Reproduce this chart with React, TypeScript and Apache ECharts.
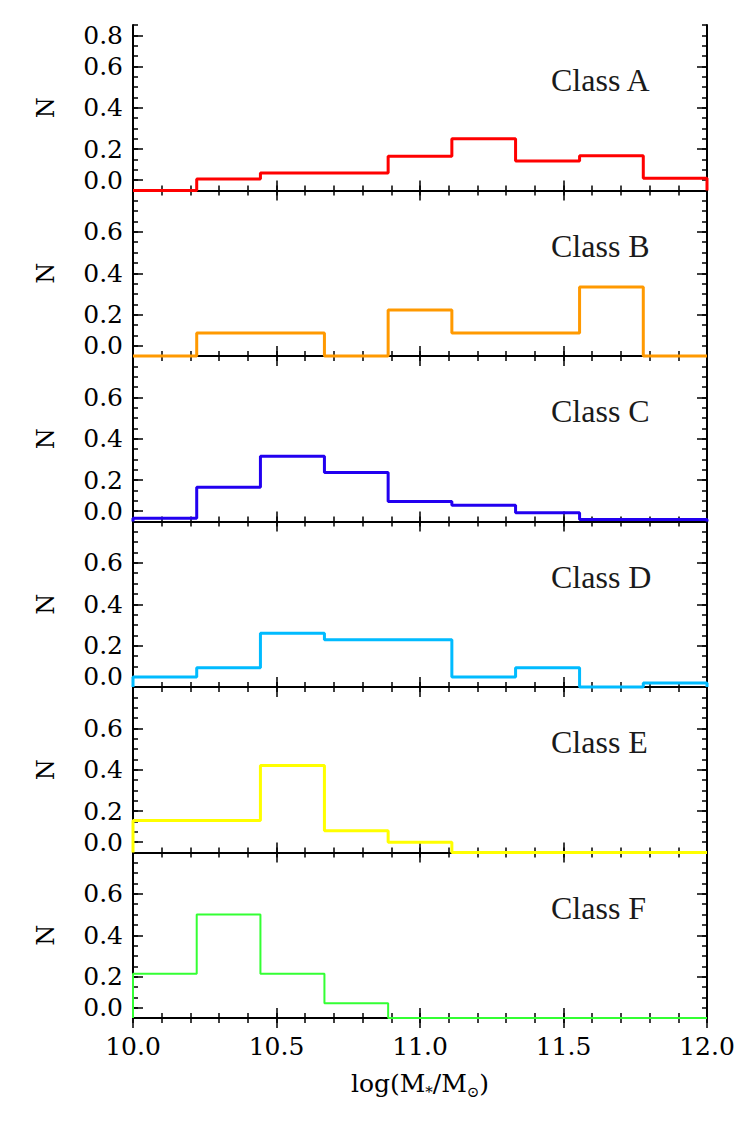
import React, { useEffect, useRef } from "react";
import * as echarts from "echarts";

// Bin edges of log(M*/M_sun)
const xEdges = [10.0, 10.222, 10.444, 10.667, 10.889, 11.111, 11.333, 11.556, 11.778, 12.0];
const xTickLabels = ["10.0", "10.5", "11.0", "11.5", "12.0"];

// Normalised histogram values per class (one value per bin)
const classA = [0.0, 0.055, 0.084, 0.084, 0.166, 0.25, 0.143, 0.168, 0.059];
const classB = [0.0, 0.111, 0.111, 0.0, 0.222, 0.111, 0.111, 0.333, 0.0];
const classC = [0.016, 0.166, 0.315, 0.237, 0.097, 0.079, 0.042, 0.01, 0.01];
const classD = [0.048, 0.093, 0.26, 0.228, 0.228, 0.048, 0.093, 0.0, 0.019];
const classE = [0.155, 0.155, 0.42, 0.105, 0.05, 0.0, 0.0, 0.0, 0.0];
const classF = [0.214, 0.5, 0.214, 0.071, 0.0, 0.0, 0.0, 0.0, 0.0];

const classNames = ["Class A", "Class B", "Class C", "Class D", "Class E", "Class F"];
const classValues = [classA, classB, classC, classD, classE, classF];
const classColors = ["#ff0000", "#ff9900", "#2200f0", "#00bbff", "#ffff00", "#33ff33"];
const classWidths = [3, 3, 3, 3, 3, 2];

// y tick label positions (labels are drawn one minor tick inside the edges)
const yLabelValuesTop = [0.05, 0.2, 0.4, 0.6, 0.75];
const yLabelValues = [0.05, 0.2, 0.4, 0.6];
const yRightMajor = [0.2, 0.4, 0.6];

const PLOT_LEFT = 133;
const PLOT_WIDTH = 574;
const PLOT_TOP = 25;
const PANEL_H = 165.5;

const NUM_FONT = '"DejaVu Serif", serif';
const CLASS_FONT = '"Liberation Serif", serif';

function stepData(vals: number[]) {
  const last = xEdges.length - 1;
  const pts: number[][] = [[xEdges[0], 0]];
  vals.forEach((v, j) => pts.push([xEdges[j], v]));
  pts.push([xEdges[last], vals[vals.length - 1]]);
  pts.push([xEdges[last], 0]);
  return pts;
}

const yFmt = (v: number) => (v < 0.1 ? "0.0" : v > 0.7 ? "0.8" : v.toFixed(1));

export default function App() {
  const ref = useRef<HTMLDivElement>(null);
  useEffect(() => {
    if (!ref.current) return;
    const chart = echarts.init(ref.current, undefined, { renderer: "svg" });
    const n = classValues.length;
    const grids: any[] = [];
    const xAxes: any[] = [];
    const yAxes: any[] = [];
    const series: any[] = [];
    const graphics: any[] = [];
    const axisLine = { show: true, lineStyle: { color: "#000", width: 2 } };
    const tickStyle = { color: "#000", width: 1.5 };
    for (let i = 0; i < n; i++) {
      const top = PLOT_TOP + i * PANEL_H;
      grids.push({ left: PLOT_LEFT, width: PLOT_WIDTH, top, height: PANEL_H, containLabel: false });
      ["bottom", "top"].forEach((pos) => {
        // major ticks (0.5) + labels
        xAxes.push({
          type: "value",
          gridIndex: i,
          position: pos,
          min: 10,
          max: 12,
          interval: 0.5,
          axisLine,
          axisTick: { show: true, inside: true, length: 10, lineStyle: tickStyle },
          splitLine: { show: false },
          axisLabel: {
            show: pos === "bottom" && i === n - 1,
            margin: 16,
            fontFamily: NUM_FONT,
            fontSize: 25,
            color: "#000",
            formatter: (v: number) => xTickLabels[Math.round((v - 10) / 0.5)] ?? "",
          },
        });
        // minor ticks (0.1)
        xAxes.push({
          type: "value",
          gridIndex: i,
          position: pos,
          min: 10,
          max: 12,
          interval: 0.1,
          axisLine: { show: false },
          axisTick: { show: true, inside: true, length: 5, lineStyle: tickStyle },
          splitLine: { show: false },
          axisLabel: { show: false },
        });
      });
      const labels = i === 0 ? yLabelValuesTop : yLabelValues;
      // left: minor ticks + labels
      yAxes.push({
        type: "value",
        gridIndex: i,
        position: "left",
        min: 0,
        max: 0.8,
        interval: 0.05,
        axisLine,
        axisTick: { show: true, inside: true, length: 5, lineStyle: tickStyle },
        splitLine: { show: false },
        axisLabel: {
          show: true,
          customValues: labels,
          formatter: yFmt,
          margin: 10,
          fontFamily: NUM_FONT,
          fontSize: 25,
          color: "#000",
        },
      });
      // left: major ticks
      yAxes.push({
        type: "value",
        gridIndex: i,
        position: "left",
        min: 0,
        max: 0.8,
        axisLine: { show: false },
        axisTick: { show: true, inside: true, length: 10, customValues: labels, lineStyle: tickStyle },
        axisLabel: { show: false },
        splitLine: { show: false },
      });
      // right: minor ticks
      yAxes.push({
        type: "value",
        gridIndex: i,
        position: "right",
        min: 0,
        max: 0.8,
        interval: 0.05,
        axisLine,
        axisTick: { show: true, inside: true, length: 5, lineStyle: tickStyle },
        axisLabel: { show: false },
        splitLine: { show: false },
      });
      // right: major ticks
      yAxes.push({
        type: "value",
        gridIndex: i,
        position: "right",
        min: 0,
        max: 0.8,
        axisLine: { show: false },
        axisTick: { show: true, inside: true, length: 10, customValues: yRightMajor, lineStyle: tickStyle },
        axisLabel: { show: false },
        splitLine: { show: false },
      });
      series.push({
        type: "line",
        name: classNames[i],
        xAxisIndex: i * 4,
        yAxisIndex: i * 4,
        step: "end",
        symbol: "none",
        clip: false,
        silent: true,
        z: 5,
        lineStyle: { color: classColors[i], width: classWidths[i] },
        data: stepData(classValues[i]),
      });
      graphics.push({
        type: "text",
        x: 46,
        y: top + PANEL_H / 2,
        rotation: Math.PI / 2,
        style: {
          text: "N",
          font: `24px ${NUM_FONT}`,
          fill: "#000",
          align: "center",
          verticalAlign: "middle",
        },
      });
      graphics.push({
        type: "text",
        x: 551,
        y: top + 55,
        style: {
          text: classNames[i],
          font: `32px ${CLASS_FONT}`,
          fill: "#1a1a1a",
          align: "left",
          verticalAlign: "middle",
        },
      });
    }
    graphics.push({
      type: "text",
      x: PLOT_LEFT + PLOT_WIDTH / 2,
      y: 1083,
      style: {
        text: "{a|log(M}{s|*}{a|/M}{s|⊙}{a|)}",
        align: "center",
        verticalAlign: "middle",
        fill: "#000",
        rich: {
          a: { fontFamily: NUM_FONT, fontSize: 25, lineHeight: 32, fill: "#000" },
          s: { fontFamily: NUM_FONT, fontSize: 15, lineHeight: 32, verticalAlign: "bottom", fill: "#000" },
        },
      },
    });
    chart.setOption({
      animation: false,
      backgroundColor: "#fff",
      grid: grids,
      xAxis: xAxes,
      yAxis: yAxes,
      series,
      graphic: graphics,
    });
    return () => chart.dispose();
  }, []);
  return (
    <div
      ref={ref}
      style={{ position: "fixed", left: 0, top: 0, width: 747, height: 1122, background: "#fff" }}
    />
  );
}
